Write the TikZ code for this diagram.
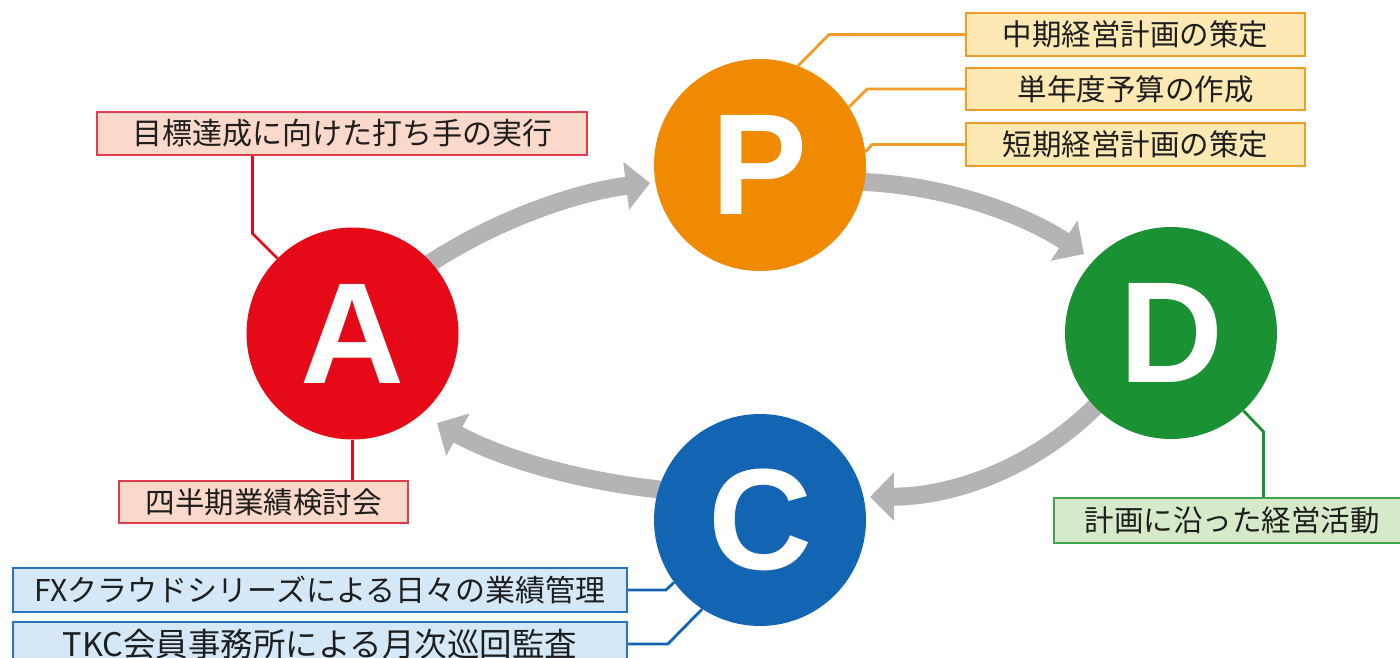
\documentclass[tikz,border=0pt]{standalone}
\usepackage{fontspec}
\setmainfont{Noto Sans CJK JP}
\newfontfamily\letterfont{Liberation Sans}
\usetikzlibrary{arrows.meta,backgrounds,calc}
\definecolor{pOrange}{RGB}{240,138,0}
\definecolor{pFill}{RGB}{253,233,180}
\definecolor{pLine}{RGB}{242,155,40}
\definecolor{aRed}{RGB}{230,10,25}
\definecolor{aFill}{RGB}{250,216,202}
\definecolor{aLine}{RGB}{225,60,75}
\definecolor{dGreen}{RGB}{26,145,50}
\definecolor{dFill}{RGB}{214,234,202}
\definecolor{dLine}{RGB}{60,165,80}
\definecolor{cBlue}{RGB}{20,100,180}
\definecolor{cFill}{RGB}{212,232,248}
\definecolor{cLine}{RGB}{40,115,195}
\definecolor{arrowgray}{RGB}{180,180,180}
\definecolor{txt}{RGB}{30,30,30}
\begin{document}
\begin{tikzpicture}[x=1pt,y=-1pt,
  circ/.style={circle, minimum size=212pt, inner sep=0pt, text=white,
    font=\letterfont\bfseries\fontsize{144}{144}\selectfont},
  lbl/.style={draw, line width=1.8pt, inner sep=0pt, minimum height=43pt,
    text=txt, font=\fontsize{29.5}{32}\selectfont},
  conn/.style={line width=2.8pt},
  flow/.style={line width=18pt, draw=arrowgray, -{Triangle[width=47pt,length=24pt]}}]
\useasboundingbox (0,0) rectangle (1400,658);
\clip (0,0) rectangle (1400,658);
% circles
\node[circ, fill=pOrange] (P) at (760,165) {P};
\node[circ, fill=aRed] (A) at (352.5,333.5) {A};
\node[circ, fill=dGreen] (D) at (1171,333) {D};
\node[circ, fill=cBlue] (C) at (760,520) {C};
% labels
\node[lbl, draw=pLine, fill=pFill, minimum width=339pt] (P1) at (1135.5,34.5) {中期経営計画の策定};
\node[lbl, draw=pLine, fill=pFill, minimum width=339pt, minimum height=42pt] (P2) at (1135.5,89) {単年度予算の作成};
\node[lbl, draw=pLine, fill=pFill, minimum width=339pt] (P3) at (1135.5,144.5) {短期経営計画の策定};
\node[lbl, draw=aLine, fill=aFill, minimum width=490pt, font=\fontsize{30}{32}\selectfont] (A1) at (342,133.5) {目標達成に向けた打ち手の実行};
\node[lbl, draw=aLine, fill=aFill, minimum width=289pt, minimum height=42pt] (A2) at (263.5,502) {四半期業績検討会};
\node[lbl, draw=dLine, fill=dFill, minimum width=356pt, minimum height=45pt] (D1) at (1232,520.5) {計画に沿った経営活動};
\node[lbl, draw=cLine, fill=cFill, minimum width=614pt, minimum height=44pt, font=\fontsize{30}{32}\selectfont] (C1) at (320,590) {FXクラウドシリーズによる日々の業績管理};
\node[lbl, draw=cLine, fill=cFill, minimum width=614pt, minimum height=44pt, font=\fontsize{32.5}{34}\selectfont] (C2) at (320,644) {TKC会員事務所による月次巡回監査};
% arrow tips
\coordinate (tipP) at (650,183);
\coordinate (tipD) at (1084,254);
\coordinate (tipC) at (870,497);
\coordinate (tipA) at (437,423);
\begin{scope}[on background layer]
  % cycle arrows
  \draw[flow] ($(A)!0.9!(A.43)$) .. controls (490,222) and (575,192) .. (tipP);
  \draw[flow] ($(P)!0.9!(P.-10)$) .. controls (950,184) and (1030,218) .. (tipD);
  \draw[flow] ($(D)!0.9!(D.224)$) .. controls (1050,455) and (970,496) .. (tipC);
  \draw[flow] ($(C)!0.9!(C.162)$) .. controls (580,482) and (500,458) .. (tipA);
  % connectors
  \draw[conn, pLine] (P1.west) -- ++(-136,0) -- (P.69);
  \draw[conn, pLine] (P2.west) -- ++(-98,0) -- (P.33);
  \draw[conn, pLine] (P3.west) -- ++(-93,0) -- (P.7);
  \coordinate (ka) at ($(A.135)+(-25,-25)$);
  \draw[conn, aRed] (A.135) -- (ka) -- (ka |- A1.south);
  \draw[conn, aRed] (A.south) -- (A.south |- A2.north);
  \coordinate (kd) at ($(D.-47)+(20,21)$);
  \draw[conn, dGreen] (D.-47) -- (kd) -- (kd |- D1.north);
  \draw[conn, cBlue] (C1.east) -- ++(38,0) -- (C.216);
  \draw[conn, cBlue] (C2.east) -- ++(40,0) -- (C.237);
\end{scope}
\end{tikzpicture}
\end{document}
